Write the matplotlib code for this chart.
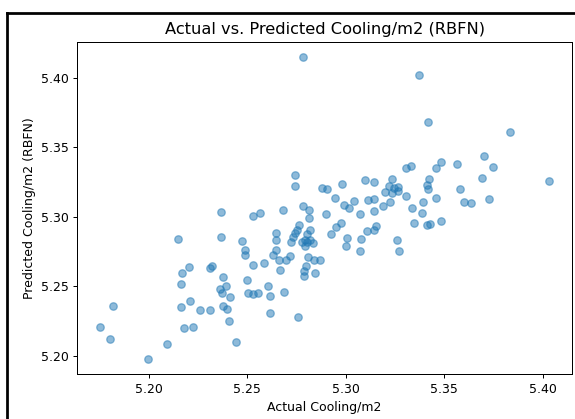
import numpy as np
import matplotlib
matplotlib.use("Agg")
import matplotlib.pyplot as plt
from matplotlib.lines import Line2D

# valores reales y predichos por la red RBFN
actual = [
    5.175, 5.180, 5.1815, 5.1996, 5.2093, 5.2149, 5.2161, 5.2164, 5.2168, 5.2180,
    5.2205, 5.2210, 5.2223, 5.2258, 5.2311, 5.2319, 5.2312, 5.2362, 5.2368, 5.2368,
    5.2370, 5.2377, 5.2378, 5.2389, 5.2399, 5.2409, 5.2414, 5.2443, 5.2474, 5.2489,
    5.2489, 5.2499, 5.2503, 5.2528, 5.2530, 5.2531, 5.2552, 5.2562, 5.2587, 5.2606,
    5.2616, 5.2616, 5.2647, 5.2647, 5.2645, 5.2630, 5.2661, 5.2667, 5.2681, 5.2686,
    5.2698, 5.2718, 5.2723, 5.2732, 5.2741, 5.2752, 5.2762, 5.2744, 5.2744, 5.2757,
    5.2783, 5.2783, 5.2813, 5.2813, 5.2779, 5.2794, 5.2805, 5.2820, 5.2834, 5.2794,
    5.2820, 5.2803, 5.2806, 5.2837, 5.2869, 5.2797, 5.2786, 5.2786, 5.2845, 5.2878,
    5.2905, 5.2899, 5.2925, 5.2946, 5.2950, 5.2976, 5.2980, 5.2990, 5.3017, 5.3007,
    5.3000, 5.3040, 5.3071, 5.3078, 5.3071, 5.3097, 5.3142, 5.3115, 5.3142, 5.3142,
    5.3153, 5.3142, 5.3108, 5.3188, 5.3224, 5.3234, 5.3221, 5.3245, 5.3263, 5.3266,
    5.3236, 5.3198, 5.3259, 5.3270, 5.3305, 5.3305, 5.3332, 5.3336, 5.3346, 5.3370,
    5.3387, 5.3391, 5.3411, 5.3429, 5.3416, 5.3422, 5.3411, 5.3417, 5.3457, 5.3457,
    5.3482, 5.3482, 5.3564, 5.3580, 5.3603, 5.3635, 5.3694, 5.3700, 5.3727, 5.3750,
    5.3835, 5.4034,
]
predicted = [
    5.2204, 5.2120, 5.2358, 5.1976, 5.2081, 5.2838, 5.2353, 5.2514, 5.2598, 5.2202,
    5.2636, 5.2394, 5.2204, 5.2326, 5.2632, 5.2646, 5.2326, 5.2480, 5.3032, 5.2852,
    5.2447, 5.2564, 5.2360, 5.2502, 5.2333, 5.2247, 5.2425, 5.2099, 5.2826, 5.2758,
    5.2724, 5.2542, 5.2447, 5.3006, 5.2650, 5.2444, 5.2452, 5.3025, 5.2670, 5.2499,
    5.2427, 5.2308, 5.2879, 5.2835, 5.2761, 5.2722, 5.2688, 5.2619, 5.3051, 5.2456,
    5.2691, 5.2715, 5.2817, 5.2857, 5.2884, 5.2904, 5.2943, 5.3299, 5.3219, 5.2276,
    5.4151, 5.3078, 5.3051, 5.2987, 5.2817, 5.2832, 5.2814, 5.2835, 5.2807, 5.2792,
    5.2902, 5.2875, 5.2709, 5.2688, 5.2689, 5.2645, 5.2607, 5.2576, 5.2596, 5.3208,
    5.3201, 5.3019, 5.2876, 5.3136, 5.2927, 5.2951, 5.3234, 5.3085, 5.3064, 5.2845,
    5.2792, 5.3116, 5.3019, 5.2839, 5.2754, 5.3263, 5.3251, 5.3122, 5.3129, 5.3044,
    5.2936, 5.2907, 5.2897, 5.3075, 5.3109, 5.3268, 5.3219, 5.3208, 5.3217, 5.3185,
    5.3167, 5.3179, 5.2835, 5.2754, 5.3147, 5.3349, 5.3368, 5.3064, 5.2954, 5.4017,
    5.3026, 5.3103, 5.2942, 5.2949, 5.3680, 5.3268, 5.3228, 5.3197, 5.3348, 5.3136,
    5.3394, 5.2972, 5.3376, 5.3196, 5.3102, 5.3098, 5.3280, 5.3440, 5.3129, 5.3356,
    5.3608, 5.3260,
]

fig = plt.figure(figsize=(575 / 90, 419 / 90), dpi=90)
ax = fig.add_axes([0.1344, 0.1074, 0.8599, 0.7931])

ax.scatter(actual, predicted, alpha=0.5)
ax.set_title("Actual vs. Predicted Cooling/m2 (RBFN)", fontsize=13)
ax.set_xlabel("Actual Cooling/m2")
ax.set_ylabel("Predicted Cooling/m2 (RBFN)")
ax.set_xticks([5.20, 5.25, 5.30, 5.35, 5.40])
ax.set_yticks([5.20, 5.25, 5.30, 5.35, 5.40])

# marco negro a la izquierda y arriba
fig.add_artist(Line2D([7 / 575, 7 / 575], [0, 1 - 13 / 419], color="black", lw=2.2))
fig.add_artist(Line2D([7 / 575, 1], [1 - 13 / 419, 1 - 13 / 419], color="black", lw=2.2))

fig.savefig("out.png", dpi=90)
